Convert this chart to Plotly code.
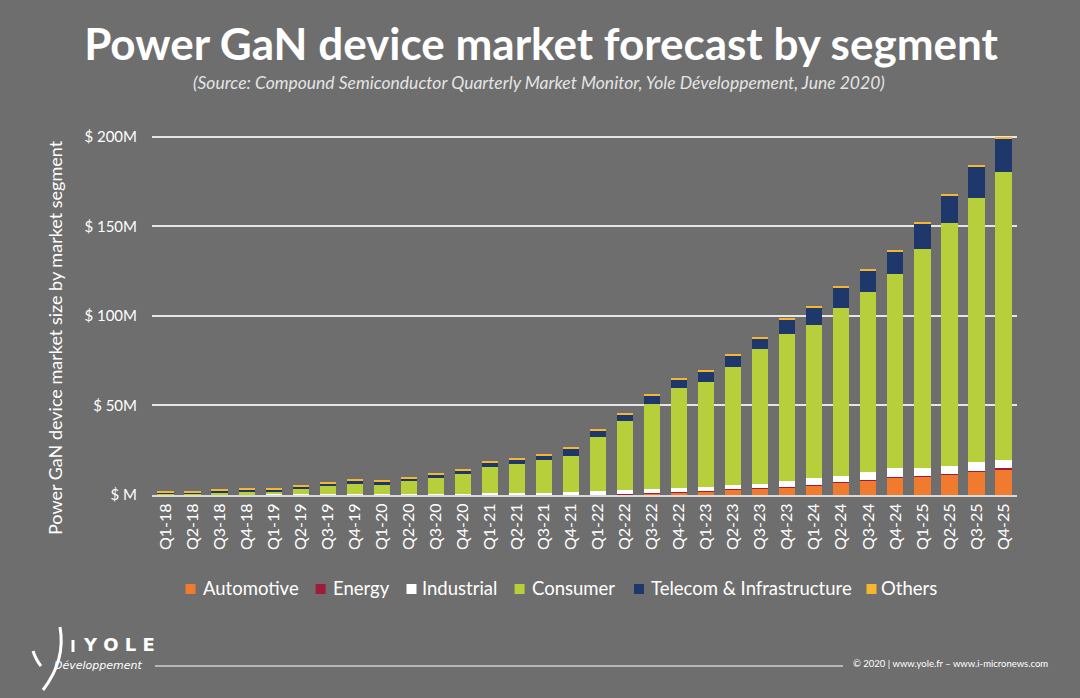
import plotly.graph_objects as go

quarters = ["Q1-18", "Q2-18", "Q3-18", "Q4-18", "Q1-19", "Q2-19", "Q3-19", "Q4-19",
            "Q1-20", "Q2-20", "Q3-20", "Q4-20", "Q1-21", "Q2-21", "Q3-21", "Q4-21",
            "Q1-22", "Q2-22", "Q3-22", "Q4-22", "Q1-23", "Q2-23", "Q3-23", "Q4-23",
            "Q1-24", "Q2-24", "Q3-24", "Q4-24", "Q1-25", "Q2-25", "Q3-25", "Q4-25"]

automotive = [0, 0, 0, 0, 0, 0, 0, 0,
              0, 0, 0, 0.1, 0.1, 0.1, 0.1, 0.1,
              0.2, 0.5, 0.8, 1.3, 2.0, 3.0, 3.5, 4.2,
              5.3, 6.8, 8.0, 9.7, 10.3, 11.2, 12.9, 14.4]
energy = [0, 0, 0, 0, 0, 0, 0, 0,
          0, 0, 0, 0, 0, 0, 0, 0,
          0, 0.1, 0.1, 0.1, 0.1, 0.2, 0.2, 0.5,
          0.3, 0.3, 0.4, 0.5, 0.5, 0.5, 0.5, 0.5]
industrial = [0.3, 0.3, 0.3, 0.4, 0.4, 0.4, 0.4, 0.5,
              0.5, 0.5, 0.5, 0.6, 0.8, 0.8, 0.9, 1.6,
              2.2, 2.0, 2.2, 2.3, 2.5, 2.4, 2.4, 3.1,
              3.7, 3.7, 4.3, 4.7, 4.1, 4.7, 4.9, 4.6]
consumer = [0.6, 0.6, 0.8, 1.0, 1.6, 2.8, 4.5, 5.8,
            5.1, 7.3, 8.8, 10.9, 14.6, 16.2, 18.6, 20.3,
            29.8, 38.5, 47.6, 56.3, 58.4, 66.1, 75.3, 82.1,
            85.5, 93.5, 100.9, 108.4, 122.5, 135.4, 147.7, 160.8]
telecom = [0.5, 0.5, 1.2, 1.4, 0.9, 1.3, 1.5, 2.0,
           2.1, 1.6, 2.4, 2.0, 2.8, 2.7, 2.5, 3.8,
           3.7, 3.8, 4.7, 4.7, 5.8, 6.3, 6.2, 8.0,
           10.0, 11.3, 12.0, 12.5, 14.2, 15.5, 17.3, 18.8]
others = [0.7, 0.7, 0.8, 0.8, 0.8, 0.8, 0.8, 0.8,
          0.7, 0.7, 0.8, 0.8, 0.8, 0.9, 0.9, 1.0,
          1.2, 0.8, 0.9, 0.8, 0.8, 0.8, 0.8, 0.8,
          0.8, 0.8, 0.7, 0.7, 0.7, 0.7, 0.7, 0.9]

segments = ["Automotive", "Energy", "Industrial", "Consumer", "Telecom & Infrastructure", "Others"]
series = [automotive, energy, industrial, consumer, telecom, others]
colors = ["#f07a2e", "#9e1b3c", "#ffffff", "#b8cf3c", "#1e386b", "#f6b632"]

tick_vals = [0, 50, 100, 150, 200]
tick_text = ["$ M", "$ 50M", "$ 100M", "$ 150M", "$ 200M"]

BG = "#6e6e6e"
FONT = "Lato"

# pixel geometry of plot area
L, R, T, B = 152, 1017, 135, 495
PW, PH = R - L, B - T


def px(xp):
    return (xp - L) / PW


def py(yp):
    return (B - yp) / PH


fig = go.Figure()
for name, vals, col in zip(segments, series, colors):
    fig.add_trace(go.Bar(x=quarters, y=vals, name=name, marker_color=col,
                         marker_line_width=0, showlegend=False))

fig.update_layout(
    width=1080, height=698,
    barmode="stack", bargap=0.4,
    paper_bgcolor=BG, plot_bgcolor=BG,
    font=dict(family=FONT, color="white"),
    margin=dict(l=L, r=1080 - R, t=T, b=698 - B, autoexpand=False),
    showlegend=False,
    xaxis=dict(tickangle=-90, tickfont=dict(size=16, color="white", family=FONT),
               showline=True, linecolor="#d9d9d9", linewidth=2, showgrid=False,
               ticks="", ticklen=0, automargin=False, fixedrange=True),
    yaxis=dict(range=[0, 201], tickvals=tick_vals, ticktext=tick_text,
               tickfont=dict(size=15, color="white", family=FONT),
               showgrid=True, gridcolor="#e6e6e6", gridwidth=2,
               zeroline=False, ticks="", ticklen=0, ticklabelstandoff=14,
               automargin=False, fixedrange=True),
    title=dict(text="<b>Power GaN device market forecast by segment</b>",
               x=541 / 1080, xanchor="center", y=1 - 45 / 698, yanchor="middle",
               font=dict(size=44, color="white", family=FONT, weight=900)),
)

# subtitle
fig.add_annotation(text="<i>(Source: Compound Semiconductor Quarterly Market Monitor, Yole Développement, June 2020)</i>",
                   xref="paper", yref="paper", x=px(539), y=py(82),
                   showarrow=False, font=dict(size=17.5, color="#e4e4e4", family=FONT),
                   xanchor="center", yanchor="middle")

# y-axis title
fig.add_annotation(text="Power GaN device market size by market segment",
                   xref="paper", yref="paper", x=px(55), y=py(338), textangle=-90,
                   showarrow=False, font=dict(size=18, color="white", family=FONT),
                   xanchor="center", yanchor="middle")

# manual legend (squares + texts)
legend_sq_x = [185.5, 315.6, 406.5, 514.6, 634.0, 866.5]
legend_tx_x = [200.5, 331.0, 420.0, 530.0, 648.5, 879.0]
LEG_Y = 588
for name, col, sx, tx in zip(segments, colors, legend_sq_x, legend_tx_x):
    fig.add_shape(type="rect", xref="paper", yref="paper",
                  x0=px(sx), x1=px(sx + 10), y0=py(LEG_Y + 6), y1=py(LEG_Y - 4),
                  fillcolor=col, line_width=0)
    fig.add_annotation(text=name, xref="paper", yref="paper", x=px(tx), y=py(LEG_Y),
                       xanchor="left", yanchor="middle", showarrow=False,
                       font=dict(size=18.5, color="white", family=FONT))

# Footer: logo
fig.add_annotation(text="<b>Y O L E</b>", xref="paper", yref="paper",
                   x=px(81), y=py(644), xanchor="left", yanchor="middle",
                   showarrow=False, font=dict(size=18, color="white", family="DejaVu Sans"))
fig.add_annotation(text="<i>Développement</i>", xref="paper", yref="paper",
                   x=px(52), y=py(665), xanchor="left", yanchor="middle",
                   showarrow=False, font=dict(size=11, color="white", family="DejaVu Sans"))


def path(points):
    d = "M {} {}".format(px(points[0][0]), py(points[0][1]))
    for (a, b), (c, e) in zip(points[1::2], points[2::2]):
        d += " Q {} {} {} {}".format(px(a), py(b), px(c), py(e))
    return d


fig.add_shape(type="path", xref="paper", yref="paper",
              path=path([(60, 627), (66, 660), (43, 690)]),
              line=dict(color="white", width=3))
fig.add_shape(type="path", xref="paper", yref="paper",
              path=path([(33, 651), (36, 660), (41, 666)]),
              line=dict(color="white", width=3))
fig.add_shape(type="line", xref="paper", yref="paper",
              x0=px(73), x1=px(73), y0=py(652), y1=py(640),
              line=dict(color="white", width=3))

fig.add_annotation(text="© 2020 | www.yole.fr – www.i-micronews.com", xref="paper", yref="paper",
                   x=px(1050), y=py(663), xanchor="right", yanchor="middle",
                   showarrow=False, font=dict(size=9.5, color="white", family=FONT))
fig.add_shape(type="line", xref="paper", yref="paper", x0=px(155), x1=px(843),
              y0=py(666), y1=py(666), line=dict(color="#d0d0d0", width=1.5))

fig.write_html("out.html", config={"displayModeBar": False},
               post_script="document.body.style.margin='0px';")
